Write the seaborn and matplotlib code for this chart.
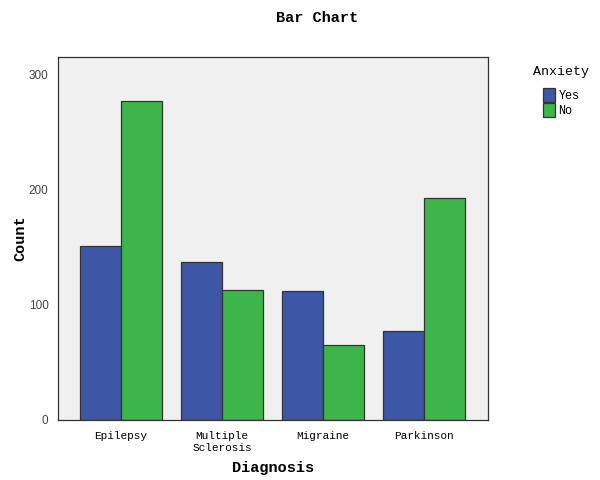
import matplotlib
matplotlib.use("Agg")
import matplotlib.pyplot as plt
import seaborn as sns
import pandas as pd

diagnoses = ["Epilepsy", "Multiple\nSclerosis", "Migraine", "Parkinson"]
anxiety_levels = ["Yes", "No"]
yes_counts = [151, 137, 112, 77]
no_counts = [277, 113, 65, 193]

rows = []
for d, y, n in zip(diagnoses, yes_counts, no_counts):
    rows.append({"Diagnosis": d, "Anxiety": "Yes", "Count": y})
    rows.append({"Diagnosis": d, "Anxiety": "No", "Count": n})
df = pd.DataFrame(rows)

sns.set_style("white")
plt.rcParams["text.color"] = "black"
plt.rcParams["axes.labelcolor"] = "black"
mono = ["Liberation Mono", "DejaVu Sans Mono"]

fig = plt.figure(figsize=(6, 4.8), dpi=100)
ax = fig.add_axes([0.097, 0.125, 0.716, 0.756])
ax.set_facecolor("#f0f0f0")

palette = {"Yes": "#3d57a6", "No": "#3db54b"}
sns.barplot(data=df, x="Diagnosis", y="Count", hue="Anxiety",
            hue_order=anxiety_levels, order=diagnoses, palette=palette,
            width=0.81, gap=0, edgecolor="#333333", linewidth=0.9,
            saturation=1, ax=ax, legend=True)

ax.set_ylim(0, 315)
ax.set_xlim(-0.62, 3.63)
ax.set_yticks([0, 100, 200, 300])
for s in ax.spines.values():
    s.set_color("#333333")
    s.set_linewidth(0.9)
ax.tick_params(axis="both", direction="out", length=5, width=0.8, color="#333333")
ax.tick_params(axis="y", labelsize=8.5, labelcolor="#444444", pad=2)
ax.tick_params(axis="x", labelsize=8, labelcolor="black", pad=3)
for lab in ax.get_xticklabels():
    lab.set_family(mono)
for lab in ax.get_yticklabels():
    lab.set_family(["Liberation Sans", "DejaVu Sans"])

ax.set_xlabel("Diagnosis", family=mono, fontsize=11, fontweight="bold", labelpad=6)
ax.set_ylabel("Count", family=mono, fontsize=11, fontweight="bold", labelpad=1)
fig.text(0.528, 0.962, "Bar Chart", family=mono, fontsize=11, fontweight="bold",
         ha="center", va="center")

handles, labels = ax.get_legend_handles_labels()
ax.get_legend().remove()
leg = fig.legend(handles, labels, title="Anxiety", loc="upper left",
                 bbox_to_anchor=(0.889, 0.862), frameon=False,
                 prop={"family": mono, "size": 8.5},
                 handlelength=1.0, handleheight=1.5, handletextpad=0.3,
                 labelspacing=0.05, borderaxespad=0, borderpad=0)
leg.get_title().set_family(mono)
leg.get_title().set_fontsize(9.5)
leg._legend_box.align = "center"
leg._legend_box.sep = 7
for p in leg.get_patches():
    p.set_edgecolor("#333333")

fig.savefig("out.png", dpi=100, facecolor="white")
